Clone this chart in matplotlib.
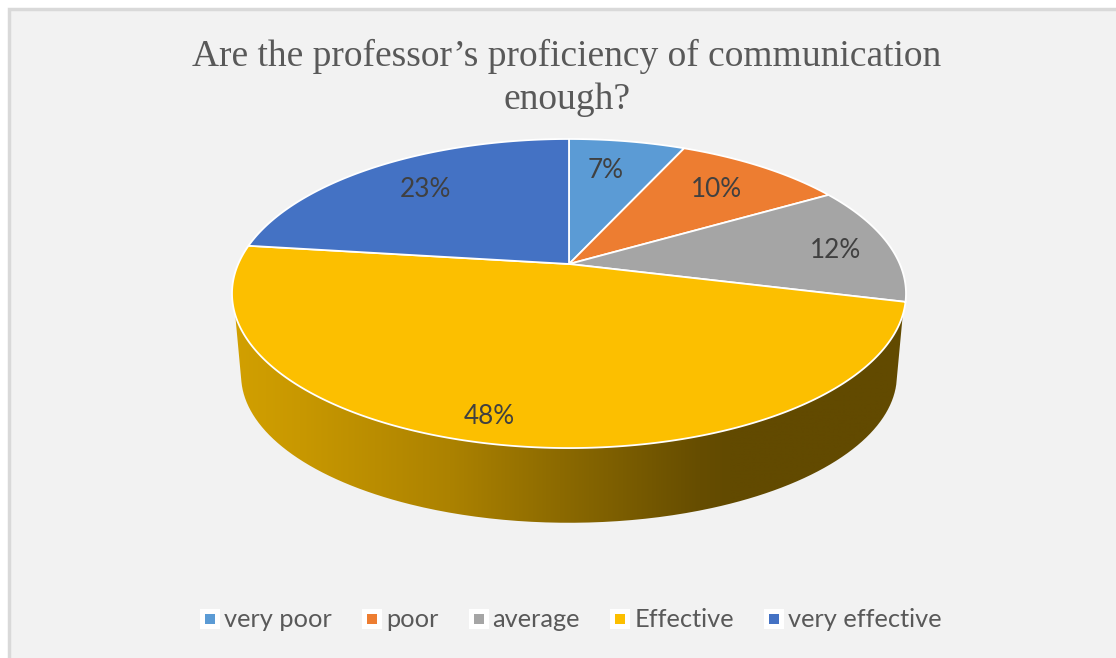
import numpy as np
import matplotlib
matplotlib.use("Agg")
import matplotlib.pyplot as plt
from matplotlib.lines import Line2D
from matplotlib.patches import Rectangle, PathPatch
from matplotlib.path import Path
from matplotlib.transforms import Transform

TITLE = "Are the professor\u2019s proficiency of communication\nenough?"
categories = ["very poor", "poor", "average", "Effective", "very effective"]
values = [6.7, 9.8, 12.4, 48.1, 23.0]
colors = ["#5B9BD5", "#ED7D31", "#A5A5A5", "#FCBF00", "#4472C4"]

W, H = 1116, 658
APEX = (569, 264)          # pie centre, pixels
A, B, K = 330.8, 148.9, 0.191   # perspective tilt of the disc
WALL_SX, WALL_SY, WALL_DY = 0.973, 0.955, -83.0
WALL_BELOW = 18.7          # degrees below horizontal where the wall starts at the rim
FLOOR_BELOW = 13.0         # same, along the lower edge


class Tilt(Transform):
    """Projective map of the unit disc on to the tilted pie top."""
    input_dims = output_dims = 2
    is_separable = False
    has_inverse = False

    def transform_non_affine(self, xy):
        xy = np.asarray(xy, float)
        w = 1 + K * xy[:, 1]
        return np.column_stack([A * xy[:, 0] / w, B * xy[:, 1] / w])

    def transform_path_non_affine(self, path):
        big = Path(path.vertices * 3000, path.codes)
        polys = big.to_polygons(closed_only=True)
        verts = np.vstack(polys) / 3000
        return Path(self.transform_non_affine(verts), closed=True)


tilt = Tilt()
fig = plt.figure(figsize=(W / 100, H / 100), dpi=100, facecolor="white")
ax = fig.add_axes([0, 0, 1, 1])

wedges, _, autotexts = ax.pie(
    values, colors=colors, startangle=90, counterclock=False, radius=1,
    autopct=lambda p: f"{p:.0f}%",
    wedgeprops=dict(edgecolor="white", linewidth=1.3),
    textprops=dict(color="#404040", fontsize=18.8, family="Lato"),
)
ax.set_aspect("auto")
ax.set_xlim(-APEX[0], W - APEX[0])
ax.set_ylim(-(H - APEX[1]), APEX[1])
ax.set_axis_off()

# background panel
ax.add_patch(Rectangle((9 - APEX[0], APEX[1] - H - 5), W + 5, H - 4, facecolor="#F2F2F2",
                       edgecolor="#D9D9D9", linewidth=2.5, zorder=-10))

for w in wedges:
    w.set_transform(tilt + ax.transData)


def rim(below):
    t = np.radians(np.linspace(180 + below, 360 - below, 300))
    return tilt.transform_non_affine(np.column_stack([np.cos(t), np.sin(t)]))


# wall of the Effective slice, below the rim
top = rim(WALL_BELOW)
bot = rim(FLOOR_BELOW) * [WALL_SX, WALL_SY] + [0, WALL_DY]
outline = np.vstack([top, bot[::-1], top[:1]])
clip = PathPatch(Path(outline, closed=False), transform=ax.transData, facecolor="none", edgecolor="none")
ax.add_patch(clip)
stops_x = np.array([232, 300, 450, 560, 700, 730, 910]) - APEX[0]
stops_c = np.array([[0xD2, 0xA0, 0x00], [0xC8, 0x98, 0x00], [0xAC, 0x82, 0x00],
                    [0x8C, 0x6A, 0x00], [0x66, 0x4D, 0x00], [0x62, 0x4A, 0x00], [0x62, 0x4A, 0x00]]) / 255
xs = np.linspace(232, 910, 680) - APEX[0]
grad = np.stack([np.interp(xs, stops_x, stops_c[:, i]) for i in range(3)], axis=-1)[None, :, :]
im = ax.imshow(grad, extent=(xs[0], xs[-1], -270, -20), aspect="auto", zorder=0.5, interpolation="bilinear")
im.set_clip_path(clip)
ax.set_xlim(-APEX[0], W - APEX[0])
ax.set_ylim(-(H - APEX[1]), APEX[1])
for w in wedges:
    w.set_zorder(1)

# data labels
label_px = [(606, 170), (716, 189), (835, 250), (489, 416), (425, 189)]
for tx, (px, py) in zip(autotexts, label_px):
    tx.set_position((px - APEX[0], APEX[1] - py))
    tx.set_ha("center")
    tx.set_va("center")
    tx.set_zorder(3)

fig.text(567 / W, 1 - 78 / H, TITLE, ha="center", va="center", family="Liberation Serif",
         fontsize=27, color="#595959", linespacing=1.29)

handles = [Line2D([], [], linestyle="none", marker="s", markersize=10.8, markerfacecolor=c,
                  markeredgecolor="white", markeredgewidth=3.6) for c in colors]
fig.legend(handles, categories, ncol=5, loc="center", bbox_to_anchor=(569 / W, 1 - 619.5 / H),
           frameon=False, prop=dict(family="Lato", size=18.3), labelcolor="#595959",
           handlelength=1.0, handletextpad=0.09, columnspacing=1.04, borderpad=0)

fig.savefig("out.png", dpi=100, facecolor="white")
